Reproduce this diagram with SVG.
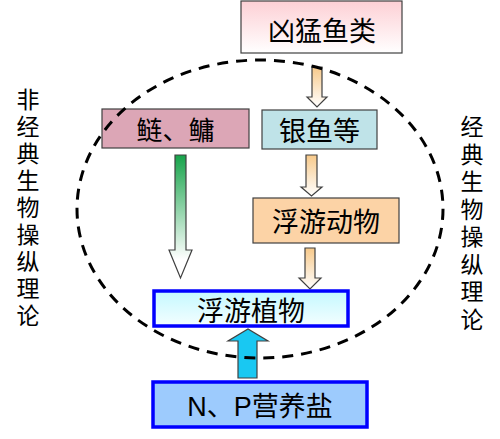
<svg xmlns="http://www.w3.org/2000/svg" width="500" height="439" viewBox="0 0 500 439">
<style>
.t{font-family:"Noto Sans CJK SC","Liberation Sans",sans-serif;fill:#000;text-anchor:middle}
.tl{font-family:"Liberation Sans","Noto Sans CJK SC",sans-serif;fill:#000;text-anchor:middle}
.v{font-family:"Liberation Sans","Noto Sans CJK SC",sans-serif;fill:#000;text-anchor:middle;font-size:23px}
.box{stroke:#404040;stroke-width:1.2}
.bb{stroke:#0000ff;stroke-width:3.5}
.ar{stroke:#404040;stroke-width:1.2}
</style>
<defs>
<linearGradient id="gPink" x1="0" y1="0" x2="0" y2="1"><stop offset="0" stop-color="#fdd0d5"/><stop offset="1" stop-color="#ffffff"/></linearGradient>
<linearGradient id="gTan" x1="0" y1="0" x2="0" y2="1"><stop offset="0" stop-color="#f7c98a"/><stop offset="1" stop-color="#ffffff"/></linearGradient>
<linearGradient id="gGreen" x1="0" y1="0" x2="0" y2="1"><stop offset="0" stop-color="#16a34a"/><stop offset="0.85" stop-color="#ffffff"/></linearGradient>
<linearGradient id="gCyan" x1="0" y1="0" x2="0" y2="1"><stop offset="0" stop-color="#c4f8ff"/><stop offset="1" stop-color="#f4feff"/></linearGradient>
</defs>
<g id="connectors">
<path class="ar" fill="url(#gTan)" d="M312,67 H322 V97 H327 L317,107 L307,97 H312 Z"/>
<path class="ar" fill="url(#gTan)" d="M306,155 H317 V187 H322 L311.5,196 L301,187 H306 Z"/>
<path class="ar" fill="url(#gTan)" d="M305,248 H315 V278 H321 L310,289 L299,278 H305 Z"/>
<path class="ar" fill="url(#gGreen)" d="M175,155 H186 V250 H192 L180.5,278 L169,250 H175 Z"/>
<path class="ar" fill="#19c8f2" d="M238,378 V341 H228 L248,329 L268,341 H257 V378 Z"/>
</g>
<g id="n1"><rect class="box" x="241" y="1" width="161" height="52" fill="url(#gPink)"/><text class="t" x="322" y="41" font-size="27">凶猛鱼类</text></g>
<g id="n2"><rect class="box" x="102" y="109" width="147" height="39" fill="#dca6b6"/><text class="t" x="175.5" y="140" font-size="26">鲢、鳙</text></g>
<g id="n3"><rect class="box" x="262" y="110" width="115" height="39" fill="#bfe3e8"/><text class="t" x="319.5" y="141" font-size="27">银鱼等</text></g>
<g id="n4"><rect class="box" x="253" y="198" width="146" height="45" fill="#fcd3a6"/><text class="t" x="326" y="232" font-size="27">浮游动物</text></g>
<g id="n5"><rect class="bb" x="154" y="291" width="194" height="35" fill="url(#gCyan)"/><text class="t" x="251" y="321" font-size="27">浮游植物</text></g>
<g id="n6"><rect class="bb" x="153" y="382" width="214" height="45" fill="#9dcbfd"/><text class="tl" x="260" y="416" font-size="27">N、P营养盐</text></g>
<ellipse cx="260" cy="209" rx="183" ry="149" fill="none" stroke="#000" stroke-width="3" stroke-dasharray="11,8"/>
<g id="labelL">
<text class="v" x="28" y="108">非</text>
<text class="v" x="28" y="135">经</text>
<text class="v" x="28" y="162">典</text>
<text class="v" x="28" y="189">生</text>
<text class="v" x="28" y="216">物</text>
<text class="v" x="28" y="243">操</text>
<text class="v" x="28" y="270">纵</text>
<text class="v" x="28" y="297">理</text>
<text class="v" x="28" y="324">论</text>
</g>
<g id="labelR">
<text class="v" x="472" y="135">经</text>
<text class="v" x="472" y="162.5">典</text>
<text class="v" x="472" y="190">生</text>
<text class="v" x="472" y="217.5">物</text>
<text class="v" x="472" y="245">操</text>
<text class="v" x="472" y="272.5">纵</text>
<text class="v" x="472" y="300">理</text>
<text class="v" x="472" y="327.5">论</text>
</g>
</svg>
